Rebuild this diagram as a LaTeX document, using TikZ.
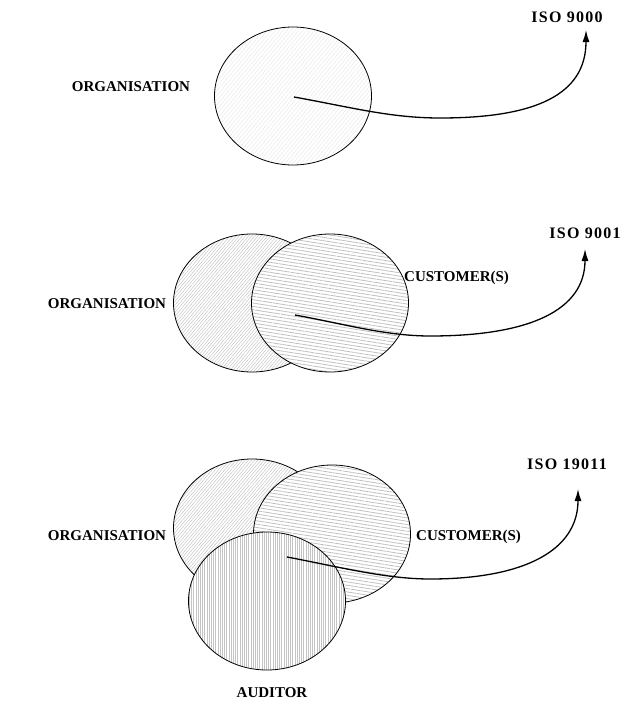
\documentclass[tikz,border=0pt]{standalone}
\usepackage{fontspec}
\setmainfont{Liberation Serif}
\newfontfamily\isofont[LetterSpace=8]{Liberation Serif}
\usetikzlibrary{shapes.geometric,patterns.meta,arrows.meta}

\tikzset{
  venn/.style={ellipse, draw=black, line width=0.8pt, inner sep=0pt,
    minimum width=157pt, minimum height=138pt, preaction={fill=white}},
  faintfill/.style={pattern={Lines[angle=50,distance=3pt,line width=0.3pt]}, pattern color=black!11},
  orgfill/.style={pattern={Lines[angle=50,distance=2.4pt,line width=0.4pt]}, pattern color=black!26},
  custfill/.style={pattern={Lines[angle=-9,distance=3.3pt,line width=0.75pt]}, pattern color=black!26},
  audfill/.style={pattern={Lines[angle=90,distance=2.2pt,line width=0.55pt]}, pattern color=black!23},
  lbl/.style={font=\fontsize{15}{18}\selectfont\bfseries, inner sep=0pt, anchor=base},
  isolbl/.style={font=\isofont\fontsize{16}{19}\selectfont\bfseries, inner sep=0pt, anchor=base},
  flow/.style={line width=1.3pt, -{Latex[length=12pt,width=7pt]}},
}

\begin{document}
\begin{tikzpicture}[x=1pt,y=-1pt]
\useasboundingbox (0,0) rectangle (630,704);

% ---- ISO 9000: the organisation alone ----
\node[venn, faintfill] (orgA) at (293,96) {};
\node[lbl] (orgAlbl) at (131,91) {ORGANISATION};
\node[isolbl] (isoA) at (567,22) {ISO 9000};
\coordinate (srcA) at (294,97);
\coordinate (tipA) at (586,30);
\draw[flow] (srcA) .. controls (350,107) and (390,118) .. (440,118)
  .. controls (535,118) and (586,95) .. (tipA);

% ---- ISO 9001: organisation and customer(s) ----
\node[venn, orgfill] (orgB) at (252,303) {};
\node[venn, custfill] (custB) at (330,303) {};
\node[lbl] (orgBlbl) at (107,308) {ORGANISATION};
\node[lbl, anchor=base west] (custBlbl) at (404,281) {CUSTOMER(S)};
\node[isolbl] (isoB) at (585,238) {ISO 9001};
\coordinate (srcB) at (295,315);
\coordinate (tipB) at (585,249);
\draw[flow] (srcB) .. controls (340,323) and (385,336) .. (430,336)
  .. controls (530,336) and (585,310) .. (tipB);

% ---- ISO 19011: organisation, customer(s) and auditor ----
\node[venn, orgfill] (orgC) at (252,528) {};
\node[venn, custfill] (custC) at (332,534) {};
\node[venn, audfill] (audC) at (267,601) {};
\node[lbl] (orgClbl) at (107,540) {ORGANISATION};
\node[lbl, anchor=base west] (custClbl) at (416,540) {CUSTOMER(S)};
\node[lbl] (audClbl) at (272,697) {AUDITOR};
\node[isolbl] (isoC) at (567,469) {ISO 19011};
\coordinate (srcC) at (287,557);
\coordinate (tipC) at (578,489);
\draw[flow] (srcC) .. controls (335,566) and (385,579) .. (430,579)
  .. controls (525,579) and (578,550) .. (tipC);
\end{tikzpicture}
\end{document}
